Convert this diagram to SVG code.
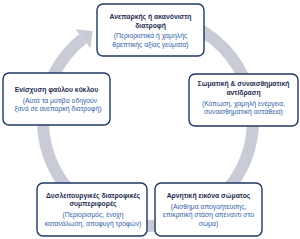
<svg xmlns="http://www.w3.org/2000/svg" width="300" height="239" viewBox="0 0 300 239">
<style>
.box{fill:#ffffff;stroke:#203864;stroke-width:1.4}
.t{font-family:"Liberation Sans",Arial,sans-serif;font-size:6.8px;font-weight:bold;fill:#1f2d50;text-anchor:middle}
.s{font-family:"Liberation Sans",Arial,sans-serif;font-size:6.8px;fill:#2f5fa8;text-anchor:middle}
.ring{fill:none;stroke:#c9cbd6;stroke-width:12}
.head{fill:#c9cbd6}
</style>
<rect width="300" height="239" fill="#ffffff"/>
<g id="connectors">
<path class="ring" d="M 175.2 19.6 A 105 105 0 1 1 82.9 38.6"/>
<polygon class="head" points="75.5,29.2 90.3,48 92.6,31"/>
</g>
<g id="n1">
<rect class="box" x="97" y="4" width="107" height="52" rx="6"/>
<text class="t" x="150.5" y="19">Ανεπαρκής ή ακανόνιστη</text>
<text class="t" x="150.5" y="27.5">διατροφή</text>
<text class="s" x="150.5" y="38">(Περιοριστικά ή χαμηλής</text>
<text class="s" x="150.5" y="46.5">θρεπτικής αξίας γεύματα)</text>
</g>
<g id="n2">
<rect class="box" x="189" y="74" width="109" height="52" rx="6"/>
<text class="t" x="243.5" y="86">Σωματική &amp; συναισθηματική</text>
<text class="t" x="243.5" y="94.5">αντίδραση</text>
<text class="s" x="243.5" y="105.5">(Κόπωση, χαμηλή ενέργεια,</text>
<text class="s" x="243.5" y="114">συναισθηματική αστάθεια)</text>
</g>
<g id="n3">
<rect class="box" x="155" y="183" width="107" height="53" rx="6"/>
<text class="t" x="208.5" y="197.5">Αρνητική εικόνα σώματος</text>
<text class="s" x="208.5" y="208.5">(Αίσθημα απογοήτευσης,</text>
<text class="s" x="208.5" y="217">επικριτική στάση απέναντι στο</text>
<text class="s" x="208.5" y="225.5">σώμα)</text>
</g>
<g id="n4">
<rect class="box" x="37" y="183" width="110" height="53" rx="6"/>
<text class="t" x="93" y="197.5">Δυσλειτουργικές διατροφικές</text>
<text class="t" x="93" y="206">συμπεριφορές</text>
<text class="s" x="93" y="217">(Περιορισμός, ένοχη</text>
<text class="s" x="93" y="225.5">κατανάλωση, αποφυγή τροφών)</text>
</g>
<g id="n5">
<rect class="box" x="3" y="73" width="107" height="52" rx="6"/>
<text class="t" x="56.5" y="92">Ενίσχυση φαύλου κύκλου</text>
<text class="s" x="60" y="102.5">(Αυτά τα μοτίβα οδηγούν</text>
<text class="s" x="58" y="111">ξανά σε ανεπαρκή διατροφή)</text>
</g>
</svg>
